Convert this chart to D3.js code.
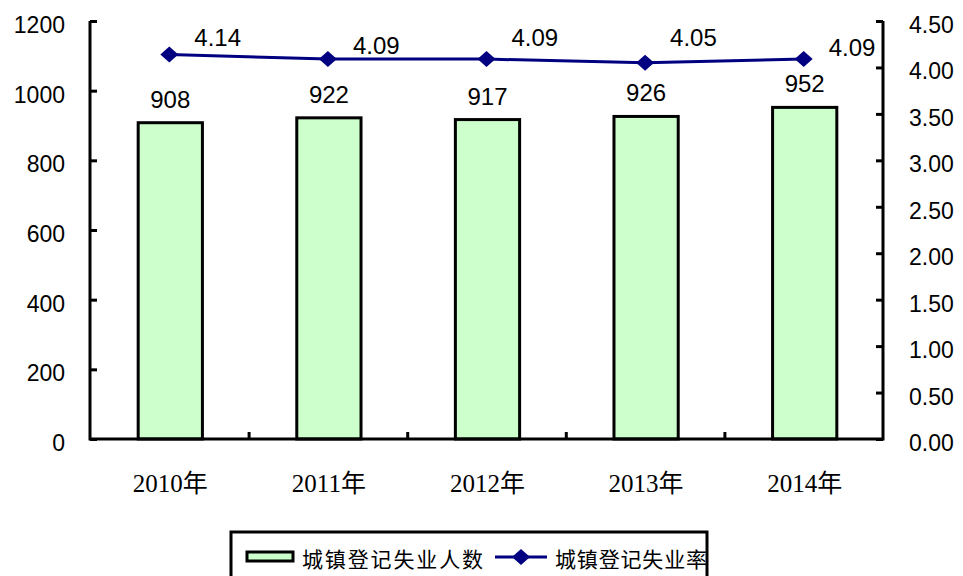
<!DOCTYPE html>
<html>
<head>
<meta charset="utf-8">
<script src="https://cdn.jsdelivr.net/npm/d3@7"></script>
<style>
  body { margin: 0; background: #fff; }
  svg { display: block; }
</style>
</head>
<body>
<div id="chart"></div>
<script>
const years = ["2010年", "2011年", "2012年", "2013年", "2014年"];
const people = [908, 922, 917, 926, 952];
const rates = [4.14, 4.09, 4.09, 4.05, 4.09];
const leftTicks = [0, 200, 400, 600, 800, 1000, 1200];
const rightTicks = [0, 0.5, 1, 1.5, 2, 2.5, 3, 3.5, 4, 4.5];
const legendNames = ["城镇登记失业人数", "城镇登记失业率"];

// vertical nudges of the rate labels, as placed in the original
const rateLabelDy = [-8, -5, -13, -17, -3];

const W = 963, H = 576;
const plotL = 90, plotR = 883, plotT = 21, plotB = 439;

const svg = d3.select("#chart").append("svg")
    .attr("width", W)
    .attr("height", H);

const x = d3.scaleBand().domain(years).range([plotL, plotR]).padding(0);
const yL = d3.scaleLinear().domain([0, 1200]).range([plotB, plotT]);
const yR = d3.scaleLinear().domain([0, 4.5]).range([plotB, plotT]);
const cx = i => x(years[i]) + x.bandwidth() / 2;

const numFont = "Liberation Sans, Arial, sans-serif";

// bars
const barW = x.bandwidth() * 0.405;
svg.selectAll(".bar").data(people).enter().append("rect")
    .attr("x", (d, i) => cx(i) - barW / 2 + 1)
    .attr("y", d => yL(d))
    .attr("width", barW)
    .attr("height", d => plotB - yL(d))
    .attr("fill", "#ccffcc")
    .attr("stroke", "#000")
    .attr("stroke-width", 3);

svg.selectAll(".blabel").data(people).enter().append("text")
    .attr("x", (d, i) => cx(i) + 1)
    .attr("y", d => yL(d) - 15)
    .attr("text-anchor", "middle")
    .attr("font-family", numFont)
    .attr("font-size", 24)
    .text(d => d);

// axes
const axL = svg.append("g").attr("transform", `translate(${plotL},0)`)
    .call(d3.axisRight(yL).tickValues(leftTicks).tickSize(7).tickFormat(""));
const axR = svg.append("g").attr("transform", `translate(${plotR},0)`)
    .call(d3.axisLeft(yR).tickValues(rightTicks).tickSize(7).tickFormat(""));
const axB = svg.append("g").attr("transform", `translate(0,${plotB})`)
    .call(d3.axisTop(d3.scaleLinear().domain([0, 5]).range([plotL, plotR]))
        .tickValues([1, 2, 3, 4]).tickSize(7).tickFormat(""));
[axL, axR, axB].forEach(g => {
    g.select(".domain").remove();
    g.selectAll("line").attr("stroke", "#000").attr("stroke-width", 3);
});
svg.append("path")
    .attr("d", `M${plotL},${plotT} V${plotB} H${plotR} V${plotT}`)
    .attr("fill", "none")
    .attr("stroke", "#000")
    .attr("stroke-width", 3);

svg.selectAll(".lt").data(leftTicks).enter().append("text")
    .attr("x", 65).attr("y", d => yL(d) + 12)
    .attr("text-anchor", "end")
    .attr("font-family", numFont).attr("font-size", 23)
    .text(d => d);
svg.selectAll(".rt").data(rightTicks).enter().append("text")
    .attr("x", 909).attr("y", d => yR(d) + 12)
    .attr("font-family", numFont).attr("font-size", 23)
    .text(d => d.toFixed(2));
svg.selectAll(".xt").data(years).enter().append("text")
    .attr("x", d => x(d) + x.bandwidth() / 2 + 1)
    .attr("y", 492)
    .attr("text-anchor", "middle")
    .attr("font-family", "Liberation Serif, Noto Sans CJK SC, serif")
    .attr("font-size", 25)
    .text(d => d);

// line
const lineGen = d3.line()
    .x((d, i) => cx(i))
    .y(d => yR(d));
svg.append("path").datum(rates)
    .attr("d", lineGen)
    .attr("fill", "none")
    .attr("stroke", "#000080")
    .attr("stroke-width", 3);
const diamond = "M0,-8L9,0L0,8L-9,0Z";
svg.selectAll(".pt").data(rates).enter().append("path")
    .attr("d", diamond)
    .attr("transform", (d, i) => `translate(${cx(i)},${yR(d)})`)
    .attr("fill", "#000080");
svg.selectAll(".rl").data(rates).enter().append("text")
    .attr("x", (d, i) => cx(i) + 25)
    .attr("y", (d, i) => yR(d) + rateLabelDy[i])
    .attr("font-family", numFont).attr("font-size", 24)
    .text(d => d.toFixed(2));

// legend
const lg = svg.append("g");
lg.append("rect")
    .attr("x", 231).attr("y", 532).attr("width", 476).attr("height", 60)
    .attr("fill", "#fff").attr("stroke", "#000").attr("stroke-width", 3);
lg.append("rect")
    .attr("x", 247).attr("y", 552).attr("width", 46).attr("height", 9)
    .attr("fill", "#ccffcc").attr("stroke", "#000").attr("stroke-width", 3);
lg.append("text")
    .attr("x", 302).attr("y", 567)
    .attr("font-family", "Noto Sans CJK SC, sans-serif").attr("font-size", 21)
    .attr("textLength", 181)
    .text(legendNames[0]);
lg.append("line")
    .attr("x1", 495).attr("x2", 547).attr("y1", 557).attr("y2", 557)
    .attr("stroke", "#000080").attr("stroke-width", 3);
lg.append("path").attr("d", diamond)
    .attr("transform", "translate(521,557)")
    .attr("fill", "#000080");
lg.append("text")
    .attr("x", 555).attr("y", 567)
    .attr("font-family", "Noto Sans CJK SC, sans-serif").attr("font-size", 21)
    .attr("textLength", 152)
    .text(legendNames[1]);
</script>
</body>
</html>
